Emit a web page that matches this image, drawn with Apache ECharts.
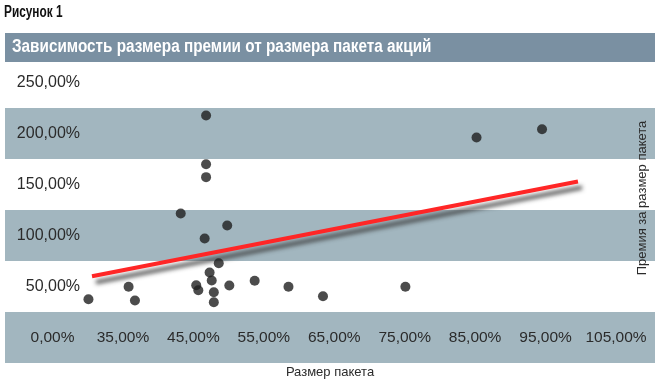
<!DOCTYPE html>
<html>
<head>
<meta charset="utf-8">
<script src="https://cdn.jsdelivr.net/npm/echarts@6/dist/echarts.min.js"></script>
<style>
html,body{margin:0;padding:0;background:#fff;}
#chart{width:668px;height:391px;}
</style>
</head>
<body>
<div id="chart"></div>
<script>
// ---- data ----
const figureLabel = 'Рисунок 1';
const chartTitle = 'Зависимость размера премии от размера пакета акций';
const xAxisTitle = 'Размер пакета';
const yAxisTitle = 'Премия за размер пакета';

const xValues = [30.1, 35.8, 36.7, 43.2, 45.4, 45.7, 46.6, 46.8, 46.8, 46.8, 47.3, 47.6, 47.9, 47.9, 48.6, 49.8, 50.1, 53.7, 58.5, 63.4, 75.1, 85.2, 94.5];
const yValues = [37.5, 49.7, 36.3, 121.6, 51.3, 46.4, 97.1, 217.6, 169.9, 157.2, 63.7, 55.9, 44.4, 34.6, 72.8, 109.8, 51.0, 55.6, 49.7, 40.5, 49.7, 196.1, 204.2];

const trendX = [30.6, 99.6];
const trendY = [60, 153];

const xTickValues = [25, 35, 45, 55, 65, 75, 85, 95, 105];
const xTickLabels = ['0,00%', '35,00%', '45,00%', '55,00%', '65,00%', '75,00%', '85,00%', '95,00%', '105,00%'];
const yTickValues = [50, 100, 150, 200, 250];
const yTickLabels = ['50,00%', '100,00%', '150,00%', '200,00%', '250,00%'];

// ---- build ----
const points = xValues.map((x, i) => [x, yValues[i]]);
const trend = trendX.map((x, i) => [x, trendY[i]]);

const bandColor = '#a2b6bf';
const bannerColor = '#7a90a2';
const textColor = '#2b2b2b';
const baseFont = '"Liberation Sans", Arial, sans-serif';

const chart = echarts.init(document.getElementById('chart'), null, {renderer: 'canvas'});
chart.setOption({
  backgroundColor: '#ffffff',
  animation: false,
  grid: {left: 5, right: 13, top: 57, bottom: 28, containLabel: false},
  xAxis: {
    type: 'value',
    min: 18.25,
    max: 110.54,
    splitLine: {show: false},
    axisLine: {show: false},
    axisTick: {show: false},
    axisLabel: {
      customValues: xTickValues,
      formatter: (v) => {
        const i = xTickValues.findIndex(t => Math.abs(t - v) < 1e-6);
        return i >= 0 ? xTickLabels[i] : '';
      },
      margin: -25,
      verticalAlign: 'middle',
      color: textColor,
      fontSize: 15.5,
      fontFamily: baseFont
    },
    name: xAxisTitle,
    nameLocation: 'middle',
    nameGap: 3,
    nameTextStyle: {color: textColor, fontSize: 13, fontFamily: baseFont, verticalAlign: 'top'}
  },
  yAxis: {
    type: 'value',
    min: -25,
    max: 275,
    interval: 50,
    splitLine: {show: false},
    splitArea: {show: true, areaStyle: {color: [bandColor, '#ffffff']}},
    axisLine: {show: false},
    axisTick: {show: false},
    axisLabel: {
      customValues: yTickValues,
      formatter: (v) => {
        const i = yTickValues.findIndex(t => Math.abs(t - v) < 1e-6);
        return i >= 0 ? yTickLabels[i] : '';
      },
      margin: -75,
      align: 'right',
      color: textColor,
      fontSize: 16,
      fontFamily: baseFont
    }
  },
  series: [
    {
      type: 'line',
      data: trend,
      symbol: 'none',
      z: 3,
      lineStyle: {
        color: '#ff2626',
        width: 4,
        shadowColor: 'rgba(60,60,60,0.85)',
        shadowBlur: 4,
        shadowOffsetX: 4,
        shadowOffsetY: 6
      }
    },
    {
      type: 'scatter',
      data: points,
      symbol: 'circle',
      symbolSize: 10,
      z: 4,
      itemStyle: {color: '#1f1f1f'}
    }
  ],
  graphic: [
    {
      type: 'text',
      x: 4,
      y: 13,
      scaleX: 0.74,
      style: {text: figureLabel, fill: '#111111', font: 'bold 16px ' + baseFont, textVerticalAlign: 'middle'}
    },
    {
      type: 'rect',
      shape: {x: 5, y: 33, width: 650, height: 29},
      style: {fill: bannerColor},
      z: 10
    },
    {
      type: 'text',
      x: 12,
      y: 47.5,
      scaleX: 0.85,
      z: 11,
      style: {text: chartTitle, fill: '#ffffff', font: 'bold 18px ' + baseFont, textVerticalAlign: 'middle'}
    },
    {
      type: 'text',
      x: 642,
      y: 198,
      rotation: Math.PI / 2,
      z: 11,
      style: {text: yAxisTitle, fill: textColor, font: '13px ' + baseFont, textAlign: 'center', textVerticalAlign: 'middle'}
    }
  ]
});
</script>
</body>
</html>
